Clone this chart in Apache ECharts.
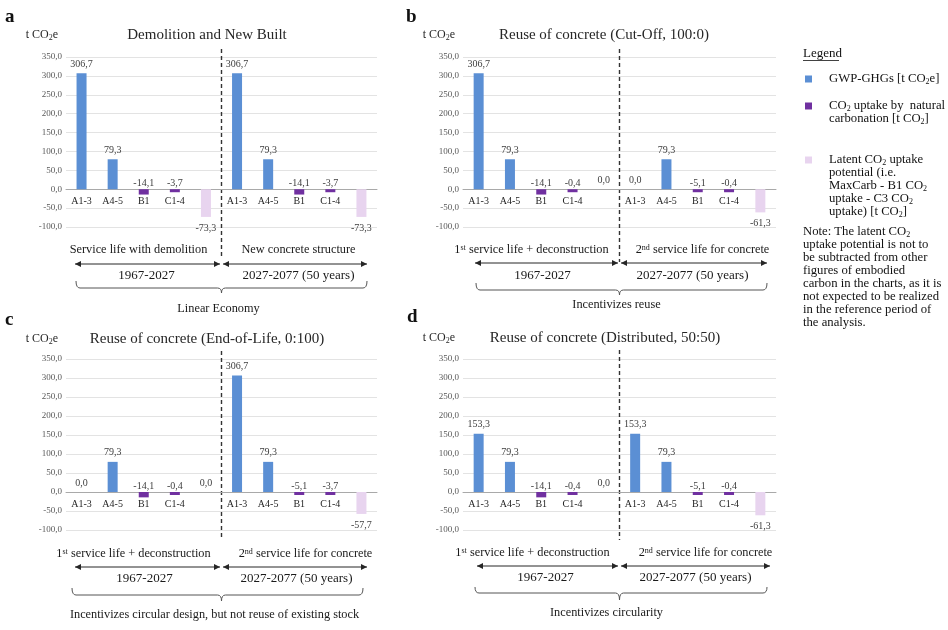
<!DOCTYPE html>
<html><head><meta charset="utf-8">
<script src="https://cdn.jsdelivr.net/npm/echarts@6/dist/echarts.min.js"></script>
<style>html,body{margin:0;padding:0;background:#fff}#c{width:948px;height:630px}</style>
</head><body><div id="c"></div>
<script>
// ---------- DATA ----------
const categories = ['A1-3','A4-5','B1','C1-4','','A1-3','A4-5','B1','C1-4',''];

const gwpA    = [306.7, 79.3, null, null, null, 306.7, 79.3, null, null, null];
const uptakeA = [null, null, -14.1, -3.7, null, null, null, -14.1, -3.7, null];
const latentA = [null, null, null, null, -73.3, null, null, null, null, -73.3];

const gwpB    = [306.7, 79.3, null, null, null, 0.0, 79.3, null, null, null];
const uptakeB = [null, null, -14.1, -0.4, null, null, null, -5.1, -0.4, null];
const latentB = [null, null, null, null, 0.0, null, null, null, null, -61.3];

const gwpC    = [0.0, 79.3, null, null, null, 306.7, 79.3, null, null, null];
const uptakeC = [null, null, -14.1, -0.4, null, null, null, -5.1, -3.7, null];
const latentC = [null, null, null, null, 0.0, null, null, null, null, -57.7];

const gwpD    = [153.3, 79.3, null, null, null, 153.3, 79.3, null, null, null];
const uptakeD = [null, null, -14.1, -0.4, null, null, null, -5.1, -0.4, null];
const latentD = [null, null, null, null, 0.0, null, null, null, null, -61.3];

const yMin = -100, yMax = 350, yStep = 50;

const panelLetters = ['a','b','c','d'];
const panelTitles = ['Demolition and New Built','Reuse of concrete (Cut-Off, 100:0)','Reuse of concrete (End-of-Life, 0:100)','Reuse of concrete (Distributed, 50:50)'];
const phaseLeft  = ['Service life with demolition','1{sup|st} service life + deconstruction','1{sup|st} service life + deconstruction','1{sup|st} service life + deconstruction'];
const phaseRight = ['New concrete structure','2{sup|nd} service life for concrete','2{sup|nd} service life for concrete','2{sup|nd} service life for concrete'];
const periodLeft = ['1967-2027','1967-2027','1967-2027','1967-2027'];
const periodRight = ['2027-2077 (50 years)','2027-2077 (50 years)','2027-2077 (50 years)','2027-2077 (50 years)'];
const bottomLabels = ['Linear Economy','Incentivizes reuse','Incentivizes circular design, but not reuse of existing stock','Incentivizes circularity'];

const NAME_GWP = 'GWP-GHGs [t CO2e]';
const NAME_UPT = 'CO2 uptake by natural carbonation [t CO2]';
const NAME_LAT = 'Latent CO2 uptake potential (i.e. MaxCarb - B1 CO2 uptake - C3 CO2 uptake) [t CO2]';
const legendText = {
  [NAME_GWP]: 'GWP-GHGs [t CO{sub|2}e]',
  [NAME_UPT]: 'CO{sub|2} uptake by  natural\ncarbonation [t CO{sub|2}]',
  [NAME_LAT]: 'Latent CO{sub|2} uptake\npotential (i.e.\nMaxCarb - B1 CO{sub|2}\nuptake - C3 CO{sub|2}\nuptake) [t CO{sub|2}]'
};
const noteText = 'Note: The latent CO{sub|2}\nuptake potential is not to\nbe subtracted from other\nfigures of embodied\ncarbon in the charts, as it is\nnot expected to be realized\nin the reference period of\nthe analysis.';

// ---------- STYLE / LAYOUT ----------
const FF = '"Liberation Serif", "Times New Roman", serif';
const C_GWP = '#5B8FD4', C_UPT = '#7030A0', C_LAT = '#E8D4EF';
const grids = [
  {left: 66, top: 57, width: 311, height: 170},
  {left: 463, top: 57, width: 313, height: 170},
  {left: 66, top: 359, width: 311, height: 171},
  {left: 463, top: 359, width: 313, height: 171}
];
const titlePos = [[207,35],[604,35],[207,339],[605,338]];
const letterPos = [[5,17],[406,17],[5,320],[407,317]];
const nameGaps = [22,22,20,21];
const ann = [
  {dashTop:49, dashBot:259, phaseY:250, arrowY:264, yearY:276, braceTop:281, braceMid:288, braceTip:293, bottomY:309, phaseDx:[-83,77], yearDx:[-75,77], bottomDx:-3, arrowL:75, arrowR:367, braceL:76, braceR:367},
  {dashTop:49, dashBot:262, phaseY:250, arrowY:263, yearY:276, braceTop:283, braceMid:290, braceTip:295, bottomY:305, phaseDx:[-88,83], yearDx:[-77,73], bottomDx:-3, arrowL:475, arrowR:767, braceL:476, braceR:767},
  {dashTop:351, dashBot:540, phaseY:554, arrowY:567, yearY:579, braceTop:588, braceMid:595, braceTip:601, bottomY:615, phaseDx:[-88,84], yearDx:[-77,75], bottomDx:-7, arrowL:75, arrowR:367, braceL:72, braceR:363},
  {dashTop:350, dashBot:540, phaseY:553, arrowY:566, yearY:578, braceTop:587, braceMid:593, braceTip:600, bottomY:613, phaseDx:[-87,86], yearDx:[-74,76], bottomDx:-13, arrowL:477, arrowR:770, braceL:475, braceR:767}
];

const panels = [
  [gwpA, uptakeA, latentA],
  [gwpB, uptakeB, latentB],
  [gwpC, uptakeC, latentC],
  [gwpD, uptakeD, latentD]
];

const fmt = p => (p.value == null || p.value === '') ? '' : Number(p.value).toFixed(1).replace('.', ',');
const subRich = {
  sub: {fontSize: 8, fontFamily: FF, lineHeight: 8, padding: [5,0,0,0]},
  sup: {fontSize: 8, fontFamily: FF, lineHeight: 8, padding: [0,0,5,0]}
};

const xAxes = [], yAxes = [], series = [], titles = [];
panels.forEach((p, i) => {
  // place the category axis on the value-axis zero line
  const zeroOffset = -grids[i].height * (0 - yMin) / (yMax - yMin);
  xAxes.push({
    type: 'category', gridIndex: i, data: categories, position: 'bottom', offset: zeroOffset,
    axisLine: {onZero: false, lineStyle: {color: '#A9A9A9', width: 1}},
    axisTick: {show: false},
    axisLabel: {interval: 0, fontSize: 10, color: '#1f1f1f', margin: 7, fontFamily: FF}
  });
  yAxes.push({
    type: 'value', gridIndex: i, min: yMin, max: yMax, interval: yStep,
    name: 't CO{s|2}e', nameLocation: 'end', nameGap: nameGaps[i],
    nameTextStyle: {fontSize: 12, color: '#262626', fontFamily: FF, align: 'right', verticalAlign: 'middle', padding: [0, 8, 0, 0],
      rich: {s: {fontSize: 8, fontFamily: FF, color: '#262626', padding: [6,0,0,0]}}},
    axisLine: {show: false}, axisTick: {show: false},
    splitLine: {lineStyle: {color: '#E3E3E3', width: 1}},
    axisLabel: {fontSize: 9, color: '#595959', margin: 4, fontFamily: FF, formatter: v => v.toFixed(1).replace('.', ',')}
  });
  const lab = (pos, dist) => ({show: true, position: pos, distance: dist, formatter: fmt, fontSize: 10, color: '#404040', fontFamily: FF});
  series.push({type: 'bar', name: NAME_GWP, xAxisIndex: i, yAxisIndex: i, data: p[0], barWidth: 10, barGap: '-100%',
    itemStyle: {color: C_GWP}, label: lab('top', 4)});
  series.push({type: 'bar', name: NAME_UPT, xAxisIndex: i, yAxisIndex: i, data: p[1], barWidth: 10, barGap: '-100%', barMinHeight: 3,
    itemStyle: {color: C_UPT}, label: lab('top', 1)});
  series.push({type: 'bar', name: NAME_LAT, xAxisIndex: i, yAxisIndex: i,
    data: p[2].map(v => v === 0 ? {value: v, label: {position: 'top', distance: 4}} : v),
    barWidth: 10, barGap: '-100%', itemStyle: {color: C_LAT}, label: lab('bottom', 6)});
  titles.push({text: panelLetters[i], left: letterPos[i][0], top: letterPos[i][1], padding: 0, textAlign: 'left', textVerticalAlign: 'middle',
    textStyle: {fontSize: 19, fontWeight: 'bold', color: '#111', fontFamily: FF}});
  titles.push({text: panelTitles[i], left: titlePos[i][0], top: titlePos[i][1], padding: 0, textAlign: 'center', textVerticalAlign: 'middle',
    textStyle: {fontSize: 15, fontWeight: 'normal', color: '#262626', fontFamily: FF}});
});

const legendBase = (name, top, padTop) => ({
  data: [name], left: 805, top: top, orient: 'vertical', padding: 0,
  itemWidth: 7, itemHeight: 7, icon: 'rect', selectedMode: false,
  formatter: n => legendText[n],
  textStyle: {fontSize: 12.7, lineHeight: 13, color: '#111', fontFamily: FF, padding: [padTop, 0, 0, 12], rich: subRich}
});

const option = {
  animation: false,
  backgroundColor: '#fff',
  textStyle: {fontFamily: FF},
  title: titles,
  grid: grids,
  xAxis: xAxes,
  yAxis: yAxes,
  legend: [
    legendBase(NAME_GWP, 72.5, 0),
    legendBase(NAME_UPT, 86.5, 13),
    legendBase(NAME_LAT, 101.5, 52)
  ],
  series: series
};

const chart = echarts.init(document.getElementById('c'), null, {renderer: 'canvas'});
chart.setOption(option);

// ---------- ANNOTATIONS (positioned from the axes) ----------
const LC = '#262626';
const txt = (x, y, text, size) => ({type: 'text', x: x, y: y, silent: true,
  style: {text: text, fontSize: size || 12.3, fontFamily: FF, fill: '#1a1a1a', align: 'center', verticalAlign: 'middle', rich: subRich}});
const tri = (x, y, dir) => ({type: 'polygon', silent: true,
  shape: {points: [[x, y], [x - dir * 6, y - 3], [x - dir * 6, y + 3]]}, style: {fill: LC}});
const seg = (x1, y1, x2, y2, col) => ({type: 'line', silent: true, shape: {x1, y1, x2, y2}, style: {stroke: col || LC, lineWidth: 1}});
const curve = (x1, y1, cx, cy, x2, y2) => ({type: 'bezierCurve', silent: true,
  shape: {x1, y1, x2, y2, cpx1: cx, cpy1: cy}, style: {stroke: '#555', lineWidth: 1, fill: null}});
const graphics = [];
panels.forEach((p, i) => {
  const a = ann[i];
  const x4 = chart.convertToPixel({xAxisIndex: i}, categories.length / 2 - 1);
  const x5 = chart.convertToPixel({xAxisIndex: i}, categories.length / 2);
  const xd = (x4 + x5) / 2;
  graphics.push({type: 'line', silent: true, shape: {x1: xd, y1: a.dashTop, x2: xd, y2: a.dashBot},
    style: {stroke: '#333', lineWidth: 1.4, lineDash: [4, 3]}});
  graphics.push(txt(xd + a.phaseDx[0], a.phaseY, phaseLeft[i]));
  graphics.push(txt(xd + a.phaseDx[1], a.phaseY, phaseRight[i]));
  // double-headed arrows
  graphics.push(seg(a.arrowL, a.arrowY, xd - 1.5, a.arrowY));
  graphics.push(seg(xd + 1.5, a.arrowY, a.arrowR, a.arrowY));
  graphics.push(tri(a.arrowL, a.arrowY, -1));
  graphics.push(tri(xd - 1.5, a.arrowY, 1));
  graphics.push(tri(xd + 1.5, a.arrowY, -1));
  graphics.push(tri(a.arrowR, a.arrowY, 1));
  graphics.push(txt(xd + a.yearDx[0], a.yearY, periodLeft[i], 13));
  graphics.push(txt(xd + a.yearDx[1], a.yearY, periodRight[i], 13));
  // brace
  const r = 4, L = a.braceL, R = a.braceR, T = a.braceTop, M = a.braceMid, B = a.braceTip;
  graphics.push(curve(L, T, L, M, L + r, M));
  graphics.push(seg(L + r, M, xd - r, M, '#555'));
  graphics.push(curve(xd - r, M, xd, M, xd, B));
  graphics.push(curve(xd, B, xd, M, xd + r, M));
  graphics.push(seg(xd + r, M, R - r, M, '#555'));
  graphics.push(curve(R - r, M, R, M, R, T));
  graphics.push(txt(xd + a.bottomDx, a.bottomY, bottomLabels[i]));
});
// legend heading + note
graphics.push({type: 'text', x: 803, y: 54, silent: true, style: {text: 'Legend', fontSize: 13, fontFamily: FF, fill: '#111', align: 'left', verticalAlign: 'middle'}});
graphics.push({type: 'line', silent: true, shape: {x1: 803, y1: 60.5, x2: 839, y2: 60.5}, style: {stroke: '#111', lineWidth: 0.8}});
graphics.push({type: 'text', x: 803, y: 225.5, silent: true, style: {text: noteText, fontSize: 12.7, lineHeight: 13, fontFamily: FF, fill: '#111', align: 'left', verticalAlign: 'top', rich: subRich}});

chart.setOption({graphic: graphics});
</script>
</body></html>
